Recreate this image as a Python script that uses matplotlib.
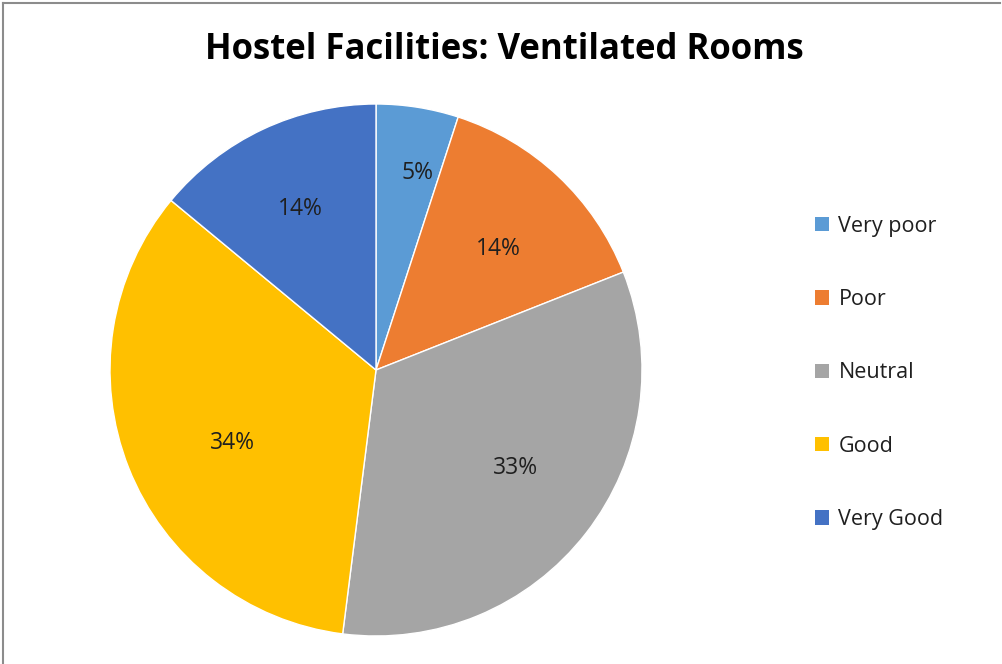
import matplotlib
matplotlib.use("Agg")
import matplotlib.pyplot as plt
from matplotlib.patches import Patch
from matplotlib.lines import Line2D
import numpy as np

categories = ["Very poor", "Poor", "Neutral", "Good", "Very Good"]
shares = [5, 14, 33, 34, 14]
colors = ["#5B9BD5", "#ED7D31", "#A5A5A5", "#FFC000", "#4472C4"]
# label placement inside each wedge: radial distance and angular nudge (deg)
label_dist = [0.757, 0.646, 0.642, 0.604, 0.668]
label_nudge = [-3.0, -2.0, 2.8, 5.4, 0.0]

W, H = 1003, 664
fig = plt.figure(figsize=(W / 100, H / 100), dpi=100)
fig.patch.set_facecolor("white")

# pie axes: centre (376, 370) px, radius 266 px
cx, cy, r = 376, 370, 266
ax = fig.add_axes([(cx - r) / W, (H - cy - r) / H, 2 * r / W, 2 * r / H])
wedges, _ = ax.pie(shares, colors=colors, startangle=90, counterclock=False,
                   radius=1, wedgeprops=dict(edgecolor="white", linewidth=1.0))
ax.set_xlim(-1, 1)
ax.set_ylim(-1, 1)
ax.set_aspect("equal")
ax.axis("off")

for w, v, d, n in zip(wedges, shares, label_dist, label_nudge):
    mid = np.deg2rad((w.theta1 + w.theta2) / 2 + n)
    ax.text(d * np.cos(mid), d * np.sin(mid), f"{v}%", ha="center", va="center",
            fontsize=16.5, family="Open Sans", color="#1f1f1f")

fig.text(504 / W, 1 - 50 / H, "Hostel Facilities: Ventilated Rooms",
         ha="center", va="center", fontsize=25, fontweight="bold",
         family="Open Sans", color="black")

handles = [Patch(facecolor=c, edgecolor="none") for c in colors]
leg = fig.legend(handles, categories, loc="upper left",
                 bbox_to_anchor=(804 / W, 1 - 205 / H), frameon=False,
                 prop=dict(family="Open Sans", size=15.5),
                 handlelength=0.65, handleheight=0.65, handletextpad=0.45,
                 labelspacing=2.43, borderpad=0)
for t in leg.get_texts():
    t.set_color("#1f1f1f")

# chart-area border along the top and left edges
fig.add_artist(Line2D([3 / W, 1000 / W], [1 - 3 / H, 1 - 3 / H],
                      transform=fig.transFigure, color="#8c8c8c", lw=1.5))
fig.add_artist(Line2D([3 / W, 3 / W], [0, 1 - 3 / H],
                      transform=fig.transFigure, color="#8c8c8c", lw=1.5))

fig.savefig("out.png", dpi=100, facecolor="white")
